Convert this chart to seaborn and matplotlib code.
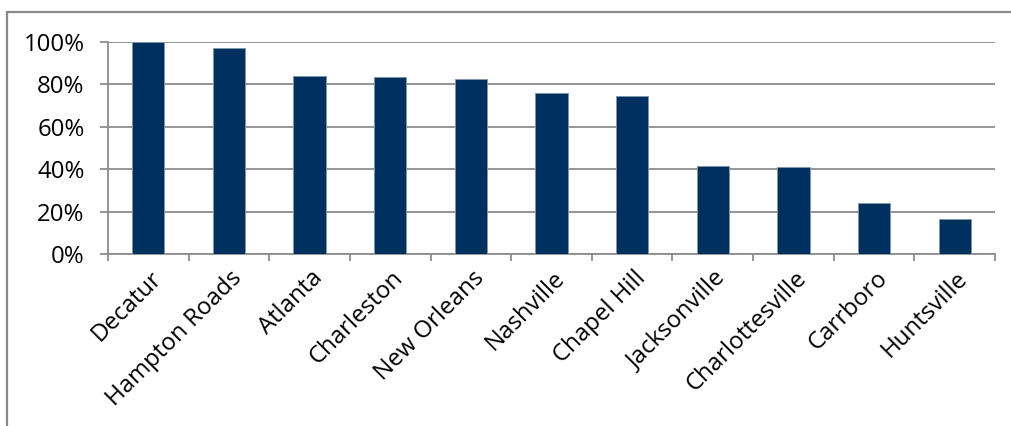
import numpy as np
import pandas as pd
import matplotlib
matplotlib.use("Agg")
import matplotlib.pyplot as plt
import matplotlib.transforms as mtransforms
from matplotlib.lines import Line2D
import seaborn as sns

cities = ["Decatur", "Hampton Roads", "Atlanta", "Charleston", "New Orleans",
          "Nashville", "Chapel Hill", "Jacksonville", "Charlottesville",
          "Carrboro", "Huntsville"]
shares = [100.0, 97.0, 84.0, 83.6, 82.4, 75.8, 74.7, 41.4, 41.2, 24.1, 16.4]
y_ticks = [0, 20, 40, 60, 80, 100]
y_tick_labels = ["0%", "20%", "40%", "60%", "80%", "100%"]

sns.set_style("white")
plt.rcParams["font.family"] = ["Open Sans", "DejaVu Sans"]

W, H = 1012, 426
FS = 17.3
fig = plt.figure(figsize=(W / 100, H / 100), dpi=100)
ax = fig.add_axes([108 / W, (H - 254) / H, (995 - 108) / W, (254 - 42) / H])

df = pd.DataFrame({"city": cities, "share": shares})
sns.barplot(data=df, x="city", y="share", color="#00305E", width=0.4,
            saturation=1, edgecolor="#8095AA", linewidth=0.7, ax=ax, zorder=3)

grid_c = "#8C8C8C"
ax.set_xlim(-0.5, len(cities) - 0.5)
ax.set_ylim(0, 100)
ax.set_yticks(y_ticks)
ax.set_yticklabels(y_tick_labels)
ax.yaxis.grid(True, color=grid_c, linewidth=1.3, zorder=0)
ax.set_axisbelow(True)
ax.set_xlabel("")
ax.set_ylabel("")

for side in ["top", "right"]:
    ax.spines[side].set_visible(False)
for side in ["left", "bottom"]:
    ax.spines[side].set_color(grid_c)
    ax.spines[side].set_linewidth(1.3)

# category boundaries carry the x tick marks, centres carry the labels
ax.set_xticks(np.arange(-0.5, len(cities), 1.0), minor=True)
ax.tick_params(axis="x", which="minor", length=5.2, width=1.3, color=grid_c,
               direction="out", bottom=True)
ax.tick_params(axis="x", which="major", length=0, pad=6)
ax.tick_params(axis="y", length=5.8, width=1.3, color=grid_c, direction="out",
               left=True, pad=11, labelsize=FS, labelcolor="black")

ax.set_xticks(range(len(cities)))
ax.set_xticklabels(cities, rotation=45, ha="right", va="center",
                   rotation_mode="anchor", fontsize=FS, color="black")
offset = mtransforms.ScaledTranslation(7 / 72, -9 / 72, fig.dpi_scale_trans)
for lbl in ax.get_xticklabels():
    lbl.set_transform(lbl.get_transform() + offset)

# outer chart frame
fig.add_artist(Line2D([7 / W, 7 / W], [0, (H - 12) / H], color="#888888",
                      linewidth=1.6, transform=fig.transFigure))
fig.add_artist(Line2D([7 / W, 1], [(H - 12) / H, (H - 12) / H], color="#888888",
                      linewidth=1.6, transform=fig.transFigure))

fig.savefig("out.png", dpi=100)
